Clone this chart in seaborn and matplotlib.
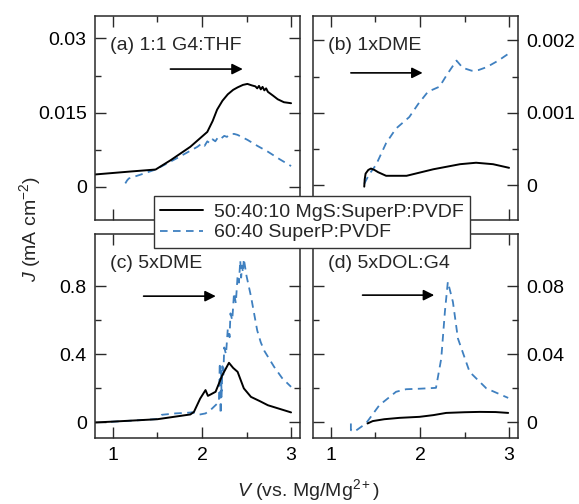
import numpy as np
import pandas as pd
import matplotlib
matplotlib.use("Agg")
import matplotlib.pyplot as plt
from matplotlib.ticker import FixedLocator, NullFormatter
import seaborn as sns

# ---------------- data ----------------
series_names = ["50:40:10 MgS:SuperP:PVDF", "60:40 SuperP:PVDF"]
panel_titles = ["(a) 1:1 G4:THF", "(b) 1xDME", "(c) 5xDME", "(d) 5xDOL:G4"]

a_v_mgs = [0.8, 1.0, 1.2, 1.48, 1.65, 1.87, 2.06, 2.12, 2.17, 2.23, 2.29, 2.35, 2.40, 2.46, 2.51,
           2.56, 2.60, 2.62, 2.64, 2.66, 2.68, 2.70, 2.72, 2.74, 2.80, 2.85, 2.92, 3.0]
a_j_mgs = [0.0025, 0.0028, 0.0031, 0.0035, 0.0054, 0.0081, 0.0111, 0.0133, 0.0156, 0.0174, 0.0187,
           0.0196, 0.0201, 0.0206, 0.0208, 0.0205, 0.0203, 0.0199, 0.0204, 0.0197, 0.0202, 0.0195,
           0.0199, 0.0192, 0.0184, 0.0177, 0.0171, 0.0169]
a_v_sp = [1.14, 1.16, 1.18, 1.30, 1.48, 1.72, 1.95, 2.00, 2.03, 2.06, 2.09, 2.12, 2.15, 2.18, 2.21,
          2.25, 2.28, 2.31, 2.36, 2.40, 2.51, 2.62, 2.74, 2.87, 3.0]
a_j_sp = [0.0007, 0.0013, 0.0017, 0.0024, 0.0035, 0.0058, 0.0081, 0.0088, 0.0083, 0.0092, 0.0088,
          0.0096, 0.0092, 0.0100, 0.0097, 0.0103, 0.0101, 0.0106, 0.0107, 0.0105, 0.0095, 0.0083,
          0.0071, 0.0056, 0.0042]

b_v_mgs = [1.375, 1.38, 1.39, 1.42, 1.45, 1.49, 1.53, 1.62, 1.85, 2.15, 2.45, 2.63, 2.82, 3.0]
b_j_mgs = [-0.00002, 0.00008, 0.00016, 0.00021, 0.00023, 0.00021, 0.00018, 0.00013, 0.00013,
           0.00022, 0.00029, 0.00031, 0.00029, 0.00024]
b_v_sp = [1.375, 1.43, 1.507, 1.62, 1.73, 1.88, 1.98, 2.09, 2.22, 2.30, 2.41, 2.48, 2.58, 2.66,
          2.75, 2.88, 3.0]
b_j_sp = [0.00002, 0.00015, 0.00028, 0.00058, 0.00078, 0.00094, 0.00112, 0.00129, 0.00136,
          0.00152, 0.00172, 0.00162, 0.00158, 0.00159, 0.00163, 0.00172, 0.00182]

c_v_mgs = [0.8, 1.0, 1.5, 1.87, 1.91, 1.98, 2.04, 2.067, 2.10, 2.153, 2.228, 2.303, 2.35, 2.40,
           2.47, 2.55, 2.65, 2.74, 2.87, 3.0]
c_j_mgs = [0.0, 0.005, 0.019, 0.047, 0.062, 0.14, 0.19, 0.156, 0.165, 0.18, 0.277, 0.35, 0.32,
           0.297, 0.2, 0.15, 0.125, 0.101, 0.08, 0.059]
c_v_sp = [0.98, 1.2, 1.5, 1.55, 1.70, 1.87, 1.89, 1.96, 2.04, 2.10, 2.15, 2.19, 2.20, 2.21, 2.215,
          2.22, 2.23, 2.24, 2.25, 2.27, 2.29, 2.31, 2.32, 2.34, 2.36, 2.38, 2.40, 2.415, 2.43,
          2.44, 2.45, 2.46, 2.47, 2.50, 2.55, 2.62, 2.66, 2.70, 2.81, 2.90, 3.0]
c_j_sp = [0.004, 0.01, 0.02, 0.045, 0.053, 0.058, 0.06, 0.045, 0.053, 0.075, 0.1, 0.12, 0.35,
          0.05, 0.30, 0.15, 0.33, 0.28, 0.44, 0.40, 0.55, 0.50, 0.64, 0.60, 0.76, 0.70, 0.86,
          0.82, 0.95, 0.85, 0.92, 0.88, 0.96, 0.86, 0.74, 0.54, 0.47, 0.42, 0.326, 0.26, 0.209]

d_v_mgs = [1.412, 1.47, 1.6, 1.77, 1.995, 2.15, 2.295, 2.5, 2.67, 2.85, 2.99]
d_j_mgs = [-0.0006, 0.0008, 0.0019, 0.0027, 0.0033, 0.0043, 0.0056, 0.006, 0.0062, 0.0061, 0.0056]
d_v_sp = [1.225, 1.225, 1.262, 1.394, 1.544, 1.732, 1.845, 2.0, 2.18, 2.239, 2.28, 2.313, 2.37,
          2.426, 2.557, 2.745, 2.99]
d_j_sp = [-0.0006, -0.0045, -0.0055, -0.0006, 0.0101, 0.018, 0.0195, 0.0198, 0.0203, 0.0375,
          0.065, 0.0825, 0.0707, 0.0493, 0.0297, 0.02, 0.0144]

x_ticks = [1, 2, 3]
x_tick_labels = ["1", "2", "3"]
x_minor = [1.5, 2.5]
y_ticks = [[0, 0.015, 0.03], [0, 0.001, 0.002], [0, 0.4, 0.8], [0, 0.04, 0.08]]
y_tick_labels = [["0", "0.015", "0.03"], ["0", "0.001", "0.002"], ["0", "0.4", "0.8"], ["0", "0.04", "0.08"]]
y_minor = [[0.0075, 0.0225], [0.0005, 0.0015], [0.2, 0.6], [0.02, 0.06]]
y_lims = [(-0.0067, 0.0346), (-0.00048, 0.00234), (-0.094, 1.105), (-0.0094, 0.1105)]
arrows = [((1.646, 0.0238), (2.458, 0.0238)), ((1.225, 0.00155), (2.03, 0.00155)),
          ((1.345, 0.741), (2.155, 0.741)), ((1.356, 0.0747), (2.16, 0.0747))]

# ---------------- style ----------------
sns.set_style("ticks")
plt.rcParams["font.family"] = ["Liberation Sans", "DejaVu Sans"]
plt.rcParams["mathtext.fontset"] = "custom"
plt.rcParams["mathtext.rm"] = "Liberation Sans"
plt.rcParams["mathtext.it"] = "Liberation Sans:italic"
plt.rcParams["font.size"] = 14

BLUE = "#3f80c0"
SPINE = "#2a2a2a"
FS = 14

fig = plt.figure(figsize=(5.79, 5.04), dpi=100)
W = 0.354
H = 0.4055
lefts = [0.1641, 0.5406, 0.1641, 0.5406]
bottoms = [0.5635, 0.5635, 0.1300, 0.1300]

data = [
    (a_v_mgs, a_j_mgs, a_v_sp, a_j_sp),
    (b_v_mgs, b_j_mgs, b_v_sp, b_j_sp),
    (c_v_mgs, c_j_mgs, c_v_sp, c_j_sp),
    (d_v_mgs, d_j_mgs, d_v_sp, d_j_sp),
]

axes = []
for i in range(4):
    ax = fig.add_axes([lefts[i], bottoms[i], W, H])
    axes.append(ax)
    vm, jm, vs, js = data[i]
    df_m = pd.DataFrame({"V": vm, "J": jm})
    df_s = pd.DataFrame({"V": vs, "J": js})
    sns.lineplot(data=df_s, x="V", y="J", ax=ax, color=BLUE, lw=1.3, estimator=None, sort=False,
                 linestyle=(0, (4.2, 3.0)), label=series_names[1])
    sns.lineplot(data=df_m, x="V", y="J", ax=ax, color="black", lw=1.4, estimator=None, sort=False,
                 label=series_names[0])
    if ax.get_legend() is not None:
        ax.get_legend().remove()
    ax.set_xlim(0.8, 3.1)
    ax.set_ylim(*y_lims[i])
    ax.set_xlabel("")
    ax.set_ylabel("")
    ax.xaxis.set_major_locator(FixedLocator(x_ticks))
    ax.xaxis.set_minor_locator(FixedLocator(x_minor))
    ax.yaxis.set_major_locator(FixedLocator(y_ticks[i]))
    ax.yaxis.set_minor_locator(FixedLocator(y_minor[i]))
    ax.set_yticklabels(y_tick_labels[i])
    if i >= 2:
        ax.set_xticklabels(x_tick_labels)
    ax.xaxis.set_minor_formatter(NullFormatter())
    ax.yaxis.set_minor_formatter(NullFormatter())
    right = (i % 2 == 1)
    ax.tick_params(which="both", direction="in", top=True, bottom=True, left=True, right=True,
                   color=SPINE, width=1.0, labelsize=FS, labelcolor="black")
    ax.tick_params(which="major", length=8, pad=6)
    ax.tick_params(which="minor", length=4.5)
    ax.tick_params(axis="y", labelleft=not right, labelright=right)
    ax.tick_params(axis="x", labelbottom=(i >= 2))
    for sp in ax.spines.values():
        sp.set_color(SPINE)
        sp.set_linewidth(1.1)
    ax.text(0.072, 0.855, panel_titles[i], transform=ax.transAxes, fontsize=FS,
            ha="left", va="center")
    (x0, y0), (x1, y1) = arrows[i]
    ax.annotate("", xy=(x1, y1), xytext=(x0, y0),
                arrowprops=dict(arrowstyle="-|>", color="black", lw=1.2, mutation_scale=16,
                                shrinkA=0, shrinkB=0))

handles, labels = axes[0].get_legend_handles_labels()
order = [labels.index(series_names[0]), labels.index(series_names[1])]
leg = fig.legend([handles[k] for k in order], [labels[k] for k in order],
                 loc="center", bbox_to_anchor=(0.539, 0.559), fontsize=FS,
                 frameon=True, fancybox=False, framealpha=1, edgecolor="#333333",
                 handlelength=2.2, handletextpad=0.55, labelspacing=0.15, borderpad=0.35)
leg.get_frame().set_linewidth(1.0)

fig.text(0.052, 0.5456, "$J$ (mA cm$^{-2}$)", rotation=90, ha="center", va="center", fontsize=FS)
fig.text(0.532, 0.028, "$V$ (vs. Mg/Mg$^{2+}$)", ha="center", va="center", fontsize=FS)

fig.savefig("out.png", dpi=100)
